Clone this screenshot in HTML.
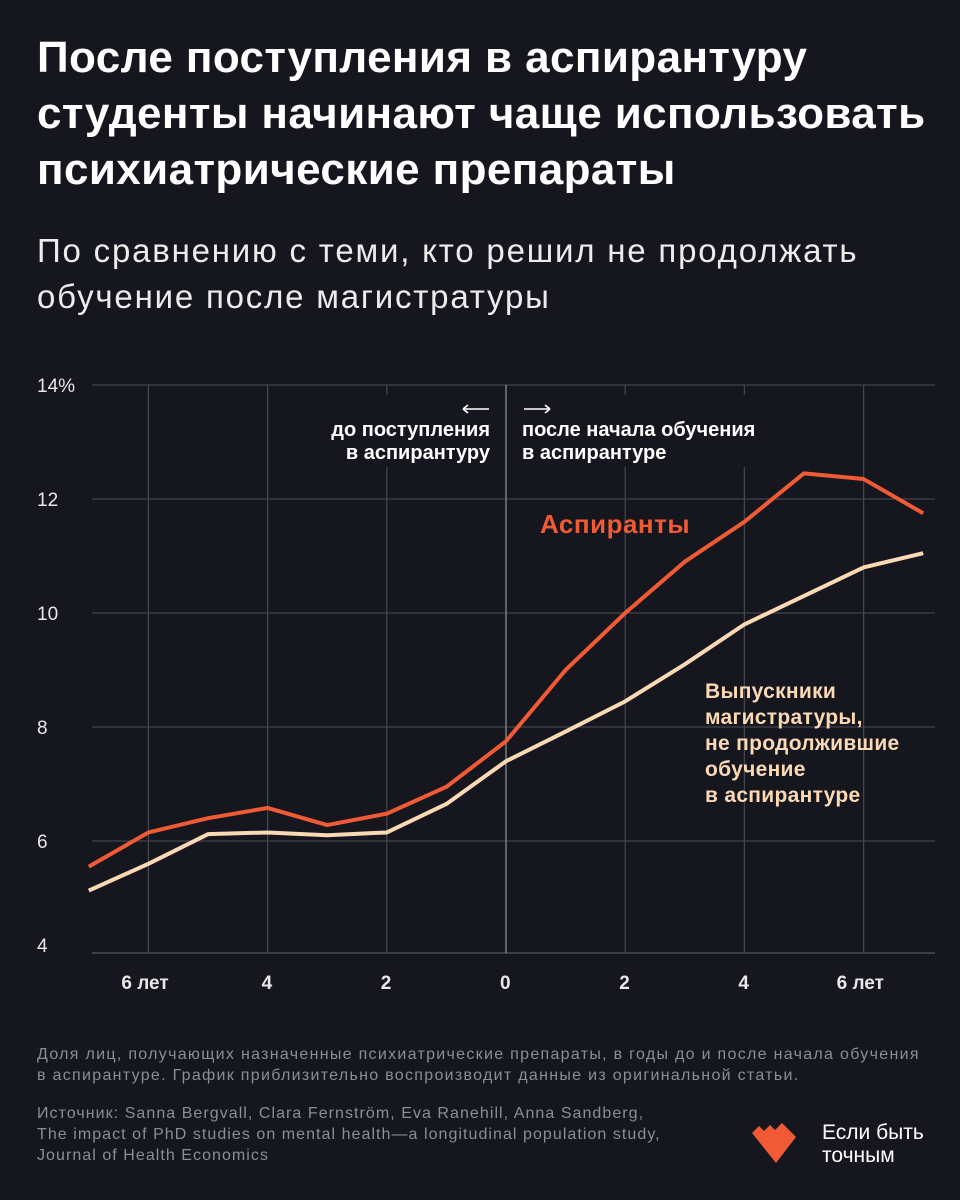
<!DOCTYPE html>
<html><head><meta charset="utf-8">
<style>
body{margin:0;width:960px;height:1200px;background:#16161f;overflow:hidden;font-family:"Liberation Sans","DejaVu Sans",sans-serif;color:#fff;position:relative}
.t{position:absolute;left:37px;top:30px;font-size:44px;font-weight:bold;line-height:56px;letter-spacing:0.4px;white-space:nowrap}
.s{position:absolute;left:37px;top:228px;font-size:33px;line-height:46px;color:#ececec;letter-spacing:1.8px;white-space:nowrap}
.n{position:absolute;left:37px;font-size:16px;line-height:21px;color:#8d8d96;letter-spacing:1.3px;white-space:nowrap}
</style></head><body>
<div class="t">После поступления в аспирантуру<br>студенты начинают чаще использовать<br>психиатрические препараты</div>
<div class="s">По сравнению с теми, кто решил не продолжать<br>обучение после магистратуры</div>
<svg id="c" width="960" height="1040" style="position:absolute;left:0;top:0"></svg>
<div class="n" style="top:1044px">Доля лиц, получающих назначенные психиатрические препараты, в годы до и после начала обучения<br>в аспирантуре. График приблизительно воспроизводит данные из оригинальной статьи.</div>
<div class="n" style="top:1103px;letter-spacing:1.05px">Источник: Sanna Bergvall, Clara Fernström, Eva Ranehill, Anna Sandberg,<br>The impact of PhD studies on mental health—a longitudinal population study,<br>Journal of Health Economics</div>
<svg style="position:absolute;left:752px;top:1122px" width="60" height="44"><polygon points="0,11 7,4 12,9 18,3 23,8 30,1 44,15 24,41" fill="#f05a34"/></svg>
<div style="position:absolute;left:822px;top:1121px;font-size:21px;line-height:23px;color:#fff">Если быть<br>точным</div>
<script>
const years=[-7,-6,-5,-4,-3,-2,-1,0,1,2,3,4,5,6,7];
const phd=[5.55,6.15,6.4,6.58,6.28,6.48,6.95,7.75,9.0,10.0,10.9,11.6,12.45,12.35,11.75];
const grads=[5.13,5.6,6.12,6.15,6.1,6.15,6.65,7.4,7.92,8.45,9.1,9.8,10.3,10.8,11.05];
const yTicks=[4,6,8,10,12,14];
const xTicks=[-6,-4,-2,0,2,4,6];
const xLabels=["6 лет","4","2","0","2","4","6  лет"];
const X=v=>506+v*59.6, Y=v=>955-(v-4)*57;
const s=document.getElementById('c'),NS='http://www.w3.org/2000/svg';
function add(t,a,txt){const e=document.createElementNS(NS,t);for(const k in a)e.setAttribute(k,a[k]);if(txt!=null)e.textContent=txt;s.appendChild(e);return e;}
yTicks.forEach(v=>{if(v>4){const l=add('line',{x1:92,x2:935,y1:Y(v),y2:Y(v),stroke:'#44444e','stroke-width':1.3});

}
const t=add('text',{x:37,y:Y(v)+(v==4?-3:7),fill:'#e8e8e8','font-size':19},v==14?'14%':String(v));

});
add('line',{x1:92,x2:935,y1:953,y2:953,stroke:'#55555e','stroke-width':1.3});
xTicks.forEach((v,i)=>{const l=add('line',{x1:X(v),x2:X(v),y1:385,y2:953,stroke:v==0?'#8a8a92':'#44444e','stroke-width':1.3});


const t=add('text',{x:X(v)-(i==0?27:i==6?27:6),y:989,fill:'#e8e8e8','font-size':19,'font-weight':'bold'},xLabels[i]);

});
add('rect',{x:305,y:395,width:195,height:72,fill:'#16161f'});
add('rect',{x:512,y:395,width:285,height:72,fill:'#16161f'});
[['до поступления',490,436,'end'],['в аспирантуру',490,459,'end'],['после начала обучения',522,436,'start'],['в аспирантуре',522,459,'start']].forEach(a=>{
const t=add('text',{x:a[1],y:a[2],fill:'#fff','font-size':20,'font-weight':'bold','text-anchor':a[3]},a[0]);

});
add('path',{d:'M463,409 H489 M463,409 l5,-4 M463,409 l5,4 M524,409 H550 M550,409 l-5,-4 M550,409 l-5,4',stroke:'#fff','stroke-width':1.6,fill:'none'});
function line(d,c,n){const p=add('polyline',{points:years.map((y,i)=>X(y)+','+Y(d[i])).join(' '),fill:'none',stroke:c,'stroke-width':4,'stroke-linejoin':'round'});

}
line(grads,'#fbd9b5','grads-line');
line(phd,'#f05a34','phd-line');
const a=add('text',{x:540,y:533,fill:'#f05a34','font-size':26,'font-weight':'bold','letter-spacing':0.5},'Аспиранты');


['Выпускники','магистратуры,','не продолжившие','обучение','в аспирантуре'].forEach((w,i)=>{const t=add('text',{x:705,y:698+i*26,fill:'#fbd9b5','font-size':21,'font-weight':'bold','letter-spacing':0.3},w);

});
</script>
</body></html>
